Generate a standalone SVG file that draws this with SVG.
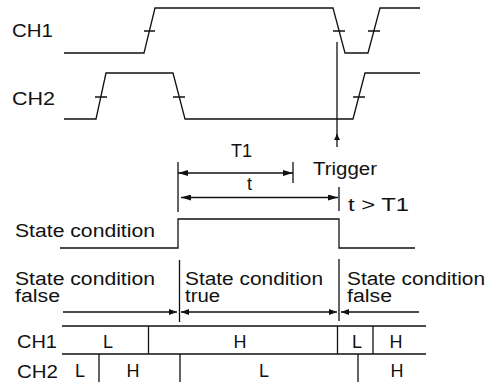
<svg xmlns="http://www.w3.org/2000/svg" width="489" height="382" viewBox="0 0 489 382">
<style>
.w{fill:none;stroke:#111;stroke-width:1.3}
.t{font-family:"Liberation Sans",Arial,sans-serif;font-size:18px;fill:#111}
.c{text-anchor:middle}
</style>
<defs>
<marker id="ah" markerUnits="userSpaceOnUse" markerWidth="10" markerHeight="6" refX="10" refY="3" orient="auto-start-reverse"><path d="M0,0 L10,3 L0,6 z" fill="#111"/></marker>
<marker id="as" markerUnits="userSpaceOnUse" markerWidth="8" markerHeight="6" refX="8" refY="3" orient="auto-start-reverse"><path d="M0,0 L8,3 L0,6 z" fill="#111"/></marker>
<marker id="at" markerUnits="userSpaceOnUse" markerWidth="6" markerHeight="6" refX="6" refY="3" orient="auto"><path d="M0,0 L6,3 L0,6 z" fill="#111"/></marker>
</defs>
<rect width="489" height="382" fill="#fff"/>
<g id="ch1-wave">
<text class="t" x="12" y="37" textLength="41" lengthAdjust="spacingAndGlyphs">CH1</text>
<path class="w" d="M64,53 L144,53 L155,8 L333,8 L345,53 L368,53 L380,8 L420,8"/>
<path class="w" d="M144,31 H155 M333,31 H345 M368,31 H380"/>
</g>
<g id="ch2-wave">
<text class="t" x="12" y="105" textLength="43" lengthAdjust="spacingAndGlyphs">CH2</text>
<path class="w" d="M64,119 L96,119 L106,73 L173,73 L185,119 L353,119 L365,73 L420,73"/>
<path class="w" d="M95,97 H107 M173,97 H185 M353,97 H365"/>
</g>
<g id="trigger">
<path class="w" d="M337,147 V134" marker-end="url(#at)"/>
<path class="w" d="M337,139 V42"/>
<text class="t" x="313" y="175" textLength="64" lengthAdjust="spacingAndGlyphs">Trigger</text>
</g>
<g id="timing">
<path class="w" d="M178,162 V212 M293,162 V183 M339,187 V211"/>
<text class="t" x="231" y="157" textLength="21" lengthAdjust="spacingAndGlyphs">T1</text>
<text class="t" x="247" y="190">t</text>
<text class="t" x="348" y="211" textLength="61" lengthAdjust="spacingAndGlyphs">t &gt; T1</text>
</g>
<g id="state-wave">
<text class="t" x="15" y="237" textLength="140" lengthAdjust="spacingAndGlyphs">State condition</text>
<path class="w" d="M60,248 L178,248 L178,219 L339,219 L339,248 L415,248"/>
</g>
<g id="regions">
<text class="t" x="15" y="284.5" textLength="140" lengthAdjust="spacingAndGlyphs">State condition</text>
<text class="t" x="15" y="302" textLength="45" lengthAdjust="spacingAndGlyphs">false</text>
<text class="t" x="185" y="284.5" textLength="138" lengthAdjust="spacingAndGlyphs">State condition</text>
<text class="t" x="185" y="302" textLength="35" lengthAdjust="spacingAndGlyphs">true</text>
<text class="t" x="347" y="284.5" textLength="138" lengthAdjust="spacingAndGlyphs">State condition</text>
<text class="t" x="347" y="302" textLength="45" lengthAdjust="spacingAndGlyphs">false</text>
<path class="w" d="M179.5,260 V322 M339,259 V321"/>
</g>
<g id="table">
<path class="w" d="M62,326 H426 M62,354 H426"/>
<path class="w" d="M148.5,326 V354 M337.5,326 V354 M373,326 V354 M99,354 V382 M180,354 V382 M358,354 V382"/>
<text class="t" x="17" y="348" textLength="40" lengthAdjust="spacingAndGlyphs">CH1</text>
<text class="t" x="17" y="378" textLength="41" lengthAdjust="spacingAndGlyphs">CH2</text>
<text class="t c" x="108" y="348">L</text>
<text class="t c" x="240" y="348">H</text>
<text class="t c" x="357" y="348">L</text>
<text class="t c" x="396" y="348">H</text>
<text class="t c" x="80" y="377">L</text>
<text class="t c" x="133" y="377">H</text>
<text class="t c" x="264" y="377">L</text>
<text class="t c" x="397" y="377">H</text>
</g>
<g id="connectors">
<path class="w" d="M178,173 H293" marker-start="url(#ah)" marker-end="url(#ah)"/>
<path class="w" d="M181,197.5 H338" marker-start="url(#ah)" marker-end="url(#ah)"/>
<path class="w" d="M63,312 H177" marker-end="url(#as)"/>
<path class="w" d="M181,312 H337" marker-start="url(#as)" marker-end="url(#as)"/>
<path class="w" d="M341,312 H419" marker-start="url(#as)"/>
</g>
</svg>
